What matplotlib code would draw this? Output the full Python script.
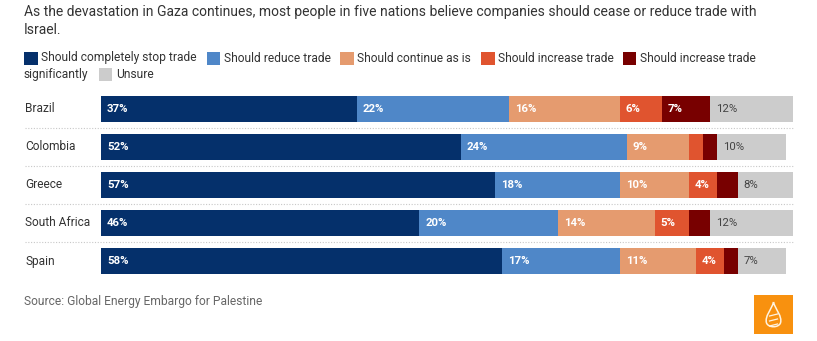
import matplotlib
matplotlib.use("Agg")
import matplotlib.pyplot as plt
from matplotlib.patches import Rectangle, PathPatch
from matplotlib.path import Path

countries = ["Brazil", "Colombia", "Greece", "South Africa", "Spain"]
categories = ["Should completely stop trade", "Should reduce trade",
              "Should continue as is", "Should increase trade",
              "Should increase trade significantly", "Unsure"]
stop_trade = [37, 52, 57, 46, 58]
reduce_trade = [22, 24, 18, 20, 17]
continue_as_is = [16, 9, 10, 14, 11]
increase_trade = [6, 2, 4, 5, 4]
increase_significantly = [7, 2, 3, 3, 2]
unsure = [12, 10, 8, 12, 7]
series = [stop_trade, reduce_trade, continue_as_is, increase_trade,
          increase_significantly, unsure]
colors = ["#05306b", "#4f87c8", "#e59b6f", "#e0542f", "#780000", "#cccccc"]
label_colors = ["white", "white", "white", "white", "white", "#444444"]
label_weights = ["bold", "bold", "bold", "bold", "bold", "normal"]
show_min = 4

plt.rcParams["font.family"] = ["Roboto", "DejaVu Sans"]

W, H = 817, 341
fig = plt.figure(figsize=(W / 100, H / 100), dpi=100)
fig.patch.set_facecolor("white")
renderer = fig.canvas.get_renderer()


def fx(px):
    return px / W


def fy(py):
    return 1 - py / H


def fit_size(text, width_px, weight="normal"):
    """Font size that makes `text` span `width_px` pixels."""
    t = fig.text(0, 0, text, fontsize=10, fontweight=weight)
    w = t.get_window_extent(renderer).width
    t.remove()
    return 10 * width_px / w


# Title
title_size = fit_size("As the devastation in Gaza continues, most people in five nations "
                      "believe companies should cease or reduce trade with", 735)
fig.text(fx(24), fy(12), "As the devastation in Gaza continues, most people in five nations "
         "believe companies should cease or reduce trade with",
         fontsize=title_size, color="#333333", va="center", ha="left")
fig.text(fx(24), fy(30), "Israel.", fontsize=title_size, color="#333333",
         va="center", ha="left")

# Legend
leg_size = fit_size("Should completely stop trade", 155)
legend_items = [
    (24.3, 58, "Should completely stop trade", 0),
    (206.7, 58, "Should reduce trade", 1),
    (340, 58, "Should continue as is", 2),
    (481, 58, "Should increase trade", 3),
    (622.7, 58, "Should increase trade", 4),
    (99, 74.5, "Unsure", 5),
]
for x, y, txt, ci in legend_items:
    fig.patches.append(Rectangle((fx(x), fy(y + 6.5)), 13.5 / W, 13 / H,
                                 transform=fig.transFigure, facecolor=colors[ci],
                                 edgecolor="none"))
    fig.text(fx(x + 17), fy(y), txt, fontsize=leg_size, color="#333333",
             va="center", ha="left")
fig.text(fx(24), fy(74.5), "significantly", fontsize=leg_size, color="#333333",
         va="center", ha="left")

# Bars
left_px, right_px = 101, 793
ax = fig.add_axes([fx(left_px), fy(280), (right_px - left_px) / W, 190 / H])
ax.set_xlim(0, 100)
ax.set_ylim(len(countries) - 0.5, -0.5)
ax.axis("off")

ypos = list(range(len(countries)))
lefts = [0] * len(countries)
for vals, col, lc, lw in zip(series, colors, label_colors, label_weights):
    ax.barh(ypos, vals, left=lefts, height=0.7, color=col, edgecolor="none")
    for i, v in enumerate(vals):
        if v >= show_min:
            ax.text(lefts[i] + 0.85, i, f"{v}%", color=lc, fontweight=lw,
                    fontsize=8.2, va="center", ha="left")
    lefts = [l + v for l, v in zip(lefts, vals)]

unit_px = (right_px - left_px) / 100
sep_x0 = (25 - left_px) / unit_px
for i in range(len(countries) - 1):
    ax.plot([sep_x0, 100], [i + 0.5, i + 0.5], color="#c8c8c8", lw=0.8,
            ls=(0, (1, 1.5)), clip_on=False)

cat_size = fit_size("South Africa", 65)
for i, c in enumerate(countries):
    ax.text(sep_x0, i, c, fontsize=cat_size, color="#333333", va="center",
            ha="left", clip_on=False)

# Source
src_size = fit_size("Source: Global Energy Embargo for Palestine", 238)
fig.text(fx(24), fy(301), "Source: Global Energy Embargo for Palestine",
         fontsize=src_size, color="#666666", va="center", ha="left")

# Logo: orange tile with a white drop-shaped emblem
fig.patches.append(Rectangle((fx(754), fy(334)), 39 / W, 39 / H,
                             transform=fig.transFigure, facecolor="#f8910f",
                             edgecolor="none"))
cx, top, bot = 773.5, 302, 327
drop = Path([(fx(cx), fy(top)),
             (fx(cx + 2), fy(top + 8)), (fx(cx + 9), fy(top + 14)), (fx(cx + 7), fy(bot - 4)),
             (fx(cx + 5), fy(bot + 1)), (fx(cx - 5), fy(bot + 1)), (fx(cx - 7), fy(bot - 4)),
             (fx(cx - 9), fy(top + 14)), (fx(cx - 2), fy(top + 8)), (fx(cx), fy(top))],
            [Path.MOVETO, Path.CURVE4, Path.CURVE4, Path.CURVE4,
             Path.CURVE4, Path.CURVE4, Path.CURVE4,
             Path.CURVE4, Path.CURVE4, Path.CURVE4])
fig.patches.append(PathPatch(drop, transform=fig.transFigure, facecolor="none",
                             edgecolor="#fff3e0", lw=1.1))
for dy in (12, 17, 22):
    fig.lines.append(plt.Line2D([fx(cx - 4), fx(cx + 4)], [fy(top + dy + 2), fy(top + dy)],
                                transform=fig.transFigure, color="#fff3e0", lw=0.9))

fig.savefig("out.png", dpi=100)
